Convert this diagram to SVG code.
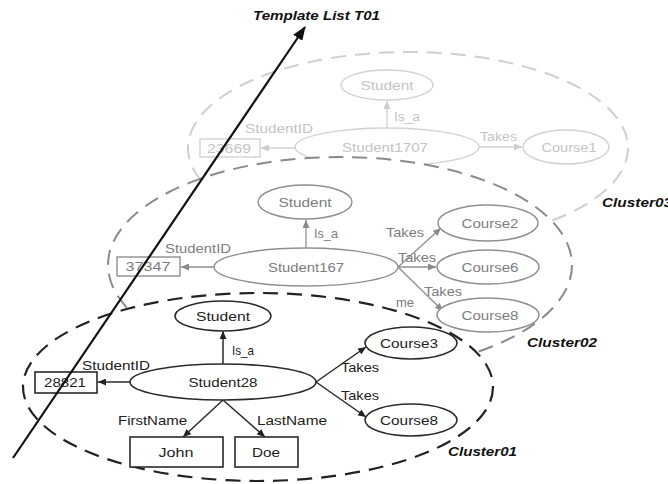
<svg xmlns="http://www.w3.org/2000/svg" width="668" height="484" viewBox="0 0 668 484">
<defs>
<marker id="a1" viewBox="0 0 8 7" refX="8" refY="3.5" markerWidth="8" markerHeight="7" markerUnits="userSpaceOnUse" orient="auto"><path d="M0,0L8,3.5L0,7z" fill="#222"/></marker>
<marker id="a2" viewBox="0 0 8 7" refX="8" refY="3.5" markerWidth="8" markerHeight="7" markerUnits="userSpaceOnUse" orient="auto"><path d="M0,0L8,3.5L0,7z" fill="#8a8a8a"/></marker>
<marker id="a3" viewBox="0 0 8 7" refX="8" refY="3.5" markerWidth="8" markerHeight="7" markerUnits="userSpaceOnUse" orient="auto"><path d="M0,0L8,3.5L0,7z" fill="#cccccc"/></marker>
<marker id="am" viewBox="0 0 14 11" refX="13" refY="5.5" markerWidth="14" markerHeight="11" markerUnits="userSpaceOnUse" orient="auto"><path d="M0,0L14,5.5L0,11z" fill="#111"/></marker>
</defs>
<style>
text{font-family:"Liberation Sans",Arial,sans-serif;font-size:13px}
.t1{fill:#222}.t2{fill:#7d7d7d}.t3{fill:#c4c4c4}
.m{text-anchor:middle}
.b{font-weight:bold;font-style:italic;font-size:12px;fill:#111}
.n1{fill:#fff;stroke:#2a2a2a;stroke-width:1.6}
.n2{fill:#fff;stroke:#8f8f8f;stroke-width:1.4}
.n3{fill:#fff;stroke:#d2d2d2;stroke-width:1.4}
.e1{stroke:#2a2a2a;stroke-width:1.5;fill:none;marker-end:url(#a1)}
.e2{stroke:#8f8f8f;stroke-width:1.3;fill:none;marker-end:url(#a2)}
.e3{stroke:#d0d0d0;stroke-width:1.3;fill:none;marker-end:url(#a3)}
.k1{fill:#fff;stroke:#222;stroke-width:2.2;stroke-dasharray:15 9}
.k2{fill:#fff;stroke:#8a8a8a;stroke-width:2;stroke-dasharray:15 9}
.k3{fill:#fff;stroke:#cfcfcf;stroke-width:2;stroke-dasharray:15 9}
</style>
<rect width="668" height="484" fill="#fff"/>

<!-- Cluster03 -->
<g id="cluster03">
<ellipse class="k3" cx="408" cy="148" rx="220" ry="96"/>
<text class="b" x="602" y="207" textLength="70" lengthAdjust="spacingAndGlyphs">Cluster03</text>
</g>
<g id="connectors03">
<line class="e3" x1="387" y1="128" x2="387" y2="101"/>
<text class="t3" x="394" y="121" textLength="26" lengthAdjust="spacingAndGlyphs">Is_a</text>
<line class="e3" x1="295" y1="148" x2="261" y2="148"/>
<text class="t3" x="245" y="133" textLength="68" lengthAdjust="spacingAndGlyphs">StudentID</text>
<line class="e3" x1="479" y1="147" x2="522" y2="147"/>
<text class="t3" x="480" y="141" textLength="37" lengthAdjust="spacingAndGlyphs">Takes</text>
</g>
<g id="c3-student"><ellipse class="n3" cx="387" cy="85" rx="46" ry="15"/><text class="t3 m" x="387" y="90" textLength="53" lengthAdjust="spacingAndGlyphs">Student</text></g>
<g id="c3-student1707"><ellipse class="n3" cx="387" cy="147" rx="92" ry="19"/><text class="t3 m" x="385" y="152" textLength="86" lengthAdjust="spacingAndGlyphs">Student1707</text></g>
<g id="c3-23669"><rect class="n3" x="200" y="139" width="60" height="18"/><text class="t3 m" x="229" y="153" textLength="44" lengthAdjust="spacingAndGlyphs">23669</text></g>
<g id="c3-course1"><ellipse class="n3" cx="566" cy="147" rx="43" ry="17"/><text class="t3 m" x="569" y="152" textLength="55" lengthAdjust="spacingAndGlyphs">Course1</text></g>

<!-- Cluster02 -->
<g id="cluster02">
<ellipse class="k2" cx="340" cy="265" rx="232" ry="108"/>
<text class="b" x="527" y="347" textLength="70" lengthAdjust="spacingAndGlyphs">Cluster02</text>
</g>
<g id="connectors02">
<line class="e2" x1="306" y1="248" x2="306" y2="220"/>
<text class="t2" x="314" y="238" textLength="24" lengthAdjust="spacingAndGlyphs">Is_a</text>
<line class="e2" x1="214" y1="267" x2="181" y2="267"/>
<text class="t2" x="165" y="253" textLength="66" lengthAdjust="spacingAndGlyphs">StudentID</text>
<line class="e2" x1="398" y1="267" x2="441" y2="228"/>
<line class="e2" x1="398" y1="267" x2="436" y2="267"/>
<line class="e2" x1="398" y1="267" x2="443" y2="311"/>
<text class="t2" x="386" y="237" textLength="38" lengthAdjust="spacingAndGlyphs">Takes</text>
<text class="t2" x="398" y="262" textLength="38" lengthAdjust="spacingAndGlyphs">Takes</text>
<text class="t2" x="424" y="296" textLength="38" lengthAdjust="spacingAndGlyphs">Takes</text>
<text class="t2" x="396" y="307" font-size="10">me</text>
</g>
<g id="c2-student"><ellipse class="n2" cx="305" cy="202" rx="47" ry="17"/><text class="t2 m" x="305" y="207" textLength="53" lengthAdjust="spacingAndGlyphs">Student</text></g>
<g id="c2-student167"><ellipse class="n2" cx="306" cy="267" rx="92" ry="19"/><text class="t2 m" x="306" y="272" textLength="76" lengthAdjust="spacingAndGlyphs">Student167</text></g>
<g id="c2-37347"><rect class="n2" x="117" y="257" width="63" height="19"/><text class="t2 m" x="148" y="271" textLength="45" lengthAdjust="spacingAndGlyphs">37347</text></g>
<g id="c2-course2"><ellipse class="n2" cx="488" cy="223" rx="50" ry="18"/><text class="t2 m" x="490" y="228" textLength="57" lengthAdjust="spacingAndGlyphs">Course2</text></g>
<g id="c2-course6"><ellipse class="n2" cx="488" cy="267" rx="51" ry="17"/><text class="t2 m" x="490" y="272" textLength="57" lengthAdjust="spacingAndGlyphs">Course6</text></g>
<g id="c2-course8"><ellipse class="n2" cx="488" cy="315" rx="51" ry="17"/><text class="t2 m" x="490" y="320" textLength="57" lengthAdjust="spacingAndGlyphs">Course8</text></g>

<!-- Cluster01 -->
<g id="cluster01">
<ellipse class="k1" cx="258" cy="387" rx="235" ry="94"/>
<text class="b" x="448" y="456" textLength="69" lengthAdjust="spacingAndGlyphs">Cluster01</text>
</g>
<g id="connectors01">
<line class="e1" x1="223" y1="364" x2="223" y2="331"/>
<text class="t1" x="232" y="355" textLength="22" lengthAdjust="spacingAndGlyphs">Is_a</text>
<line class="e1" x1="130" y1="382" x2="98" y2="382"/>
<text class="t1" x="82" y="370" textLength="68" lengthAdjust="spacingAndGlyphs">StudentID</text>
<line class="e1" x1="316" y1="382" x2="366" y2="347"/>
<line class="e1" x1="316" y1="382" x2="366" y2="417"/>
<text class="t1" x="341" y="372" textLength="38" lengthAdjust="spacingAndGlyphs">Takes</text>
<text class="t1" x="341" y="400" textLength="38" lengthAdjust="spacingAndGlyphs">Takes</text>
<line class="e1" x1="223" y1="400" x2="183" y2="437"/>
<line class="e1" x1="223" y1="400" x2="265" y2="437"/>
<text class="t1" x="118" y="425" textLength="69" lengthAdjust="spacingAndGlyphs">FirstName</text>
<text class="t1" x="257" y="425" textLength="70" lengthAdjust="spacingAndGlyphs">LastName</text>
</g>
<g id="c1-student"><ellipse class="n1" cx="223" cy="316" rx="48" ry="15"/><text class="t1 m" x="223" y="321" textLength="54" lengthAdjust="spacingAndGlyphs">Student</text></g>
<g id="c1-student28"><ellipse class="n1" cx="223" cy="382" rx="93" ry="18"/><text class="t1 m" x="223" y="387" textLength="69" lengthAdjust="spacingAndGlyphs">Student28</text></g>
<g id="c1-28821"><rect class="n1" x="35" y="372" width="62" height="21"/><text class="t1 m" x="65" y="387" textLength="42" lengthAdjust="spacingAndGlyphs">28821</text></g>
<g id="c1-course3"><ellipse class="n1" cx="411" cy="343" rx="46" ry="16"/><text class="t1 m" x="409" y="348" textLength="58" lengthAdjust="spacingAndGlyphs">Course3</text></g>
<g id="c1-course8"><ellipse class="n1" cx="411" cy="420" rx="46" ry="16"/><text class="t1 m" x="409" y="425" textLength="58" lengthAdjust="spacingAndGlyphs">Course8</text></g>
<g id="c1-john"><rect class="n1" x="130" y="437" width="93" height="30"/><text class="t1 m" x="176" y="457" textLength="35" lengthAdjust="spacingAndGlyphs">John</text></g>
<g id="c1-doe"><rect class="n1" x="235" y="437" width="63" height="30"/><text class="t1 m" x="266" y="457" textLength="28" lengthAdjust="spacingAndGlyphs">Doe</text></g>

<!-- Template list axis -->
<g id="template-list">
<line x1="13" y1="458" x2="305" y2="27" stroke="#111" stroke-width="2.2" marker-end="url(#am)"/>
<text class="b" x="253" y="20" textLength="127" lengthAdjust="spacingAndGlyphs">Template List T01</text>
</g>
</svg>
